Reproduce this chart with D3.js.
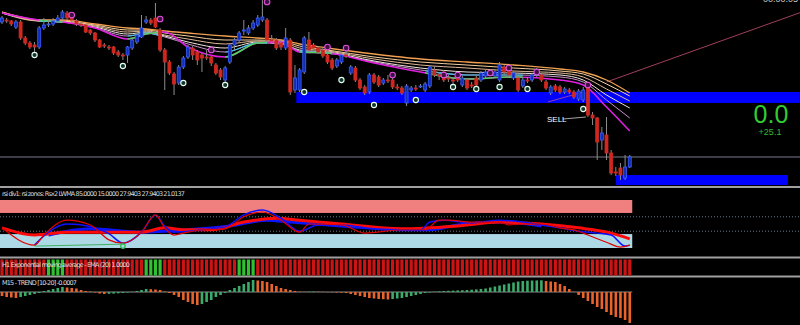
<!DOCTYPE html>
<html><head><meta charset="utf-8">
<script src="https://cdn.jsdelivr.net/npm/d3@7"></script>
<style>body{margin:0;background:#000}svg{display:block}</style>
</head><body>
<script>
// price data, one entry per bar (bars 0..135), price in points
var opens = [178,180,179,173,178,162,157,155,153,172, 175,176,179,182,187,182,179,176,175,170,
  167,160,155,153,153,148,145,145,152,158, 163,178,180,182,170,150,138,126,117,133,
  143,152,148,145,143,143,135,130,120,138, 155,160,169,167,172,175,180,180,160,160,
  157,152,160,110,110,128,160,155,152,150, 145,140,134,138,145,127,132,120,113,108,
  125,123,117,120,120,113,112,97,110,112, 113,110,114,130,125,128,122,120,123,115,
  120,115,122,120,124,127,124,120,133,130, 122,122,114,120,120,125,125,118,107,114,
  113,108,110,108,101,100,113,85,82,60, 65,47,28,32,22,33];
var highs = [184,182,180,180,180,164,159,158,174,182, 180,182,185,190,189,186,181,178,176,171,
  168,161,157,155,154,150,147,154,161,167, 185,184,182,197,172,152,140,128,135,144,
  155,154,150,147,150,144,137,132,134,157, 162,169,180,175,180,185,200,182,165,162,
  160,172,162,135,132,164,168,157,154,152, 147,142,142,147,152,135,134,122,115,127,
  127,125,122,125,122,116,114,116,114,115, 116,118,135,134,128,130,125,123,126,124,
  122,118,124,129,130,130,130,138,135,132, 129,124,122,123,127,132,127,120,115,116,
  115,113,112,110,111,113,115,88,83,73, 83,50,33,37,45,45];
var lows = [176,177,174,171,160,155,151,148,151,170, 173,174,177,180,180,178,174,173,167,165,
  158,152,152,150,145,143,140,137,150,156, 162,176,175,172,148,110,125,105,115,131,
  141,140,135,128,140,134,125,120,116,136, 150,158,165,165,170,173,178,158,156,150,
  150,150,105,107,108,126,148,150,146,142, 136,130,132,136,142,125,118,110,105,106,
  116,113,115,117,111,110,105,94,108,109, 112,108,112,123,120,118,118,115,118,113,
  110,112,113,118,122,124,122,118,126,123, 120,108,112,117,118,123,118,110,105,108,
  106,106,106,101,99,98,83,75,40,50, 40,25,24,20,20,32];
var closes = [182,179,176,178,162,157,153,153,172,175, 176,179,182,188,182,180,176,175,168,167,
  160,153,154,152,147,145,144,153,160,165, 172,180,177,173,150,138,127,116,133,142,
  153,145,140,142,142,137,127,123,132,155, 160,167,170,172,177,182,183,160,159,152,
  153,162,108,122,130,162,150,152,148,144, 138,132,140,145,144,133,120,112,107,125,
  118,115,120,119,113,112.5,107,114,112,111.5, 114,116,133,125,124,120,121,119.5,120,122,
  112,114,115,127,128,126.5,128,135,128,125, 127,110,120,119,125,130,120,112,113,110,
  108,111,108,103,109,110,85,82,58,67, 47,27,27,25,33,43];

// moving average ribbon, read at these bars
var ribbonBars = [0,8,13,20,27,31,35,40,48,55,60,64,70,80,90,100,110,120,125,130,135];
var maTop = [188,180,180,176,172,171,169,167,164,162,160,156,152,146,141,138,135,131,128,120,107];
var ma2 = [188,180,179,175,170,170,167,164,160,160,159,154,150,143,138,135,132,129,126,116,104];
var ma3 = [187,179,179,174,168,169,165,161,156,159,158,152,149,141,135,132,129,127,123,111,99];
var ma4 = [187,179,178,173,166,168,164,158,152,158,157,150,148,139,132,128,127,125,120,105,92];
var ma5 = [187,179,178,172,164,167,163,156,148,157,156,149,147,138,130,125,125,123,118,100,82];
var maBottom = [187,180,178,172,161,166,168,153,143,157,158,148,147,137,128,121,123,120,115,93,69];
var maRising = [[8,13],[27,34],[48,57],[64,71],[91,112]];

// arrow markers
var lowMarkBars = [7,26,39,48,65,73,80,89,97,102,107,113,125];
var lowMarkPrices = [145,134,117,115,108,120,95,100,113,111,113,111,91];
var highMarkBars = [15,34,45,57,70,74,84,95,98,105,109,115,126];
var highMarkPrices = [185,181,150,198,153,152,125,125,125,127,132,128,115];

// zones and levels
var zoneTop = {from: 63.3, to: 172, hi: 108, lo: 97};
var zoneLow = {from: 132, to: 169, hi: 25, lo: 15};
var priceLine = 43;
var trendLine = [[130,118],[172,188]];
var smallTrend = [[117.4,98],[125,108]];

// rsi panel
var rsiFastBars = [0,7,9,14,19,23,26,30,33,35,37,39,43,48,52,56,60,64,66,73,78,86,91,94,96,101,107,109,112,116,120,124,126,130,133,135];
var rsiFast = [42,6,27,58,48,17,10,33,69,42,27,31,38,40,65,75,58,33,50,48,31,38,38,58,58,54,54,48,50,50,42,35,27,12,2,6];
var rsiBlueBars = [7,10,14,19,23,26,30,33,35,37,43,48,52,56,60,64,68,73,80,86,90,92,95,101,107,112,116,120,124,128,131,134,135];
var rsiBlue = [6,33,50,45,30,10,33,69,45,33,38,44,69,79,62,35,48,48,40,38,38,54,58,52,58,54,48,42,35,31,27,4,6];
var rsiSlowBars = [0,7,14,23,30,35,39,45,52,59,64,73,86,98,107,116,124,131,135];
var rsiSlow = [42,27,33,33,33,42,38,38,54,62,58,50,40,46,54,50,42,31,19];
var rsiSlowBlueBars = [10,19,30,40,49,57,62,73,86,92,98,107,116];
var rsiSlowBlue = [27,40,33,38,46,58,54,46,38,38,48,54,46];
var rsiZones = {upper: [73,100], lower: [0,29], dots: [65,35]};
var divLine = [[7,4],[26,8]];

// H1 EMA trend: bars that are up
var h1UpBars = [10,11,12,13,31,32,33,34,51,52,53,54];

// M15 trend histogram
var m15 = [-4,-5,-5.5,-6,-5,-4,-3,-2,-1,1, 2,3,4,5,4.5,4,3.5,2,1,0.5,
  -0.5,-1.5,-2,-1.8,-1.6,-1.3,-1,-0.5,0.3,1, 2,3,2.8,2.5,2,0.5,-1,-3,-5,-8,
  -10,-12,-13,-12,-10,-8,-5,-3,-1,2, 4,6,8,10,12,11.5,11,10,8,6,
  4,3,2,1,0.3,0.2,0.4,0.5,0.3,0.2, -0.2,-0.3,-0.5,-0.6,-1,-2,-3,-4,-5,-6,
  -6.5,-7,-7.2,-7.5,-7,-6.5,-6,-5,-4,-3, -2,-1,-0.5,0.3,0.6,1,1.2,1.4,1.6,1.8,
  2,2.3,2.6,3,3.5,4.5,5.5,6.5,7.5,8.5, 9.5,10.5,11,11.3,11.5,11.6,11.7,11,10.5,10,
  8,6,3,0.2,-3,-6,-9,-12,-15,-17, -20,-23,-25,-26,-28,-31];

var W = 800, H = 325, N = opens.length;
var svg = d3.select("body").append("svg").attr("width", W).attr("height", H).style("background", "#000");
var defs = svg.append("defs");

var x = d3.scaleLinear().domain([0, N - 1]).range([2, 629.75]);
var y = d3.scaleLinear().domain([200, 14]).range([0, 186]);
var yr = d3.scaleLinear().domain([0, 100]).range([248, 200]);
var ym = d3.scaleLinear().domain([15, -32]).range([277, 324]);

defs.append("clipPath").attr("id", "mainclip").append("rect").attr("x", 0).attr("y", 0).attr("width", W).attr("height", 186);
var up = defs.append("clipPath").attr("id", "riseclip");
maRising.forEach(function(s){
  up.append("rect").attr("x", x(s[0])).attr("y", 0).attr("width", x(s[1]) - x(s[0])).attr("height", 186);
});

var main = svg.append("g").attr("clip-path", "url(#mainclip)");

// zones
[zoneTop, zoneLow].forEach(function(z){
  main.append("rect").attr("x", x(z.from)).attr("y", y(z.hi))
    .attr("width", x(z.to) - x(z.from)).attr("height", y(z.lo) - y(z.hi)).attr("fill", "#0000ff");
});
main.append("line").attr("x1", 0).attr("x2", W).attr("y1", y(priceLine)).attr("y2", y(priceLine))
  .attr("stroke", "#7a7a8a").attr("stroke-width", 1);
main.append("line").attr("x1", x(trendLine[0][0])).attr("y1", y(trendLine[0][1]))
  .attr("x2", x(trendLine[1][0])).attr("y2", y(trendLine[1][1])).attr("stroke", "#a0405a").attr("stroke-width", 1);
main.append("line").attr("x1", x(smallTrend[0][0])).attr("y1", y(smallTrend[0][1]))
  .attr("x2", x(smallTrend[1][0])).attr("y2", y(smallTrend[1][1])).attr("stroke", "#9040b0").attr("stroke-width", 1);

// ribbon
var ribLine = d3.line().x(function(d, i){ return x(ribbonBars[i]); }).y(function(d){ return y(d); }).curve(d3.curveMonotoneX);
var ribbon = [[ma5, "#c890c8", 1], [ma4, "#f0e4dc", 1], [ma3, "#e0b898", 1], [ma2, "#f4d0a0", 1], [maTop, "#f0a050", 1.3], [maBottom, "#e020e0", 1.6]];
ribbon.forEach(function(r){
  main.append("path").attr("d", ribLine(r[0])).attr("fill", "none").attr("stroke", r[1]).attr("stroke-width", r[2]);
});
main.append("path").attr("d", ribLine(ma5)).attr("fill", "none").attr("stroke", "#40c8e8").attr("stroke-width", 1.2).attr("clip-path", "url(#riseclip)");
main.append("path").attr("d", ribLine(maBottom)).attr("fill", "none").attr("stroke", "#50d060").attr("stroke-width", 1.6).attr("clip-path", "url(#riseclip)");

// candles
var bars = d3.range(N);
main.selectAll(".wick").data(bars).enter().append("line")
  .attr("x1", function(i){ return x(i); }).attr("x2", function(i){ return x(i); })
  .attr("y1", function(i){ return y(highs[i]); }).attr("y2", function(i){ return y(lows[i]); })
  .attr("stroke", "#8c8c8c").attr("stroke-width", 1);
main.selectAll(".body").data(bars).enter().append("rect")
  .attr("x", function(i){ return x(i) - 1.5; }).attr("width", 3)
  .attr("y", function(i){ return y(Math.max(opens[i], closes[i])); })
  .attr("height", function(i){ return Math.max(1, Math.abs(y(opens[i]) - y(closes[i]))); })
  .attr("fill", function(i){ return closes[i] >= opens[i] ? "#1430b0" : "#d02820"; })
  .attr("stroke", function(i){ return closes[i] >= opens[i] ? "#3a5cff" : "#d02820"; })
  .attr("stroke-width", 0.8);

// markers
main.selectAll(".lm").data(lowMarkBars).enter().append("circle")
  .attr("cx", function(d){ return x(d); }).attr("cy", function(d, i){ return y(lowMarkPrices[i]); })
  .attr("r", 2.6).attr("fill", "#103828").attr("stroke", "#e8fff4").attr("stroke-width", 1.1);
main.selectAll(".hm").data(highMarkBars).enter().append("circle")
  .attr("cx", function(d){ return x(d); }).attr("cy", function(d, i){ return y(highMarkPrices[i]); })
  .attr("r", 2.8).attr("fill", "#401040").attr("stroke", "#e050e0").attr("stroke-width", 1.1);

// SELL label
main.append("line").attr("x1", 563).attr("y1", 119).attr("x2", x(126) - 2).attr("y2", 117).attr("stroke", "#d0d0d0").attr("stroke-width", 0.8);
main.append("text").attr("x", 547).attr("y", 122).text("SELL").attr("fill", "#fff")
  .style("font", "8px 'Liberation Sans', Arial, sans-serif");

main.append("text").attr("x", 771).attr("y", 123).attr("text-anchor", "middle").text("0.0")
  .attr("fill", "#33cc33").style("font", "25px 'Liberation Sans', Arial, sans-serif");
main.append("text").attr("x", 770).attr("y", 135).attr("text-anchor", "middle").text("+25.1")
  .attr("fill", "#33bb33").style("font", "9px 'Liberation Sans', Arial, sans-serif");
main.append("text").attr("x", 798).attr("y", 2).attr("text-anchor", "end").text("00:00:05")
  .attr("fill", "#cccccc").style("font", "9px 'Liberation Sans', Arial, sans-serif");

// separators
[187, 257.5, 276.5].forEach(function(v){
  svg.append("line").attr("x1", 0).attr("x2", W).attr("y1", v).attr("y2", v).attr("stroke", "#a0a0a0").attr("stroke-width", 2);
});

// rsi panel
var xEnd = x(N - 1) + 2.5;
svg.append("rect").attr("x", 0).attr("width", xEnd).attr("y", yr(rsiZones.upper[1])).attr("height", yr(rsiZones.upper[0]) - yr(rsiZones.upper[1])).attr("fill", "#f08080");
svg.append("rect").attr("x", 0).attr("width", xEnd).attr("y", yr(rsiZones.lower[1])).attr("height", yr(rsiZones.lower[0]) - yr(rsiZones.lower[1])).attr("fill", "#add8e6");
rsiZones.dots.forEach(function(v){
  svg.append("line").attr("x1", 0).attr("x2", W).attr("y1", yr(v)).attr("y2", yr(v))
    .attr("stroke", "#6a7a88").attr("stroke-width", 1).attr("stroke-dasharray", "1,2");
});
function rsiPath(bs, vs){
  return d3.line().x(function(d, i){ return x(bs[i]); }).y(function(d){ return yr(d); }).curve(d3.curveMonotoneX)(vs);
}
svg.append("path").attr("d", rsiPath(rsiSlowBlueBars, rsiSlowBlue)).attr("fill", "none").attr("stroke", "#0a14ff").attr("stroke-width", 3);
svg.append("path").attr("d", rsiPath(rsiSlowBars, rsiSlow)).attr("fill", "none").attr("stroke", "#ff0a0a").attr("stroke-width", 3);
svg.append("path").attr("d", rsiPath(rsiBlueBars, rsiBlue)).attr("fill", "none").attr("stroke", "#1010ff").attr("stroke-width", 1.5);
svg.append("path").attr("d", rsiPath(rsiFastBars, rsiFast)).attr("fill", "none").attr("stroke", "#e00000").attr("stroke-width", 1.2);
svg.append("line").attr("x1", x(divLine[0][0])).attr("y1", yr(divLine[0][1])).attr("x2", x(divLine[1][0])).attr("y2", yr(divLine[1][1]))
  .attr("stroke", "#40b060").attr("stroke-width", 1);
svg.append("circle").attr("cx", x(divLine[1][0])).attr("cy", yr(4)).attr("r", 2.2).attr("fill", "none").attr("stroke", "#30c050").attr("stroke-width", 1.3);
svg.append("text").attr("x", 2).attr("y", 195.5).text("rsi div1: rsi zones: Rsx2 LWMA 85.0000 15.0000 27.9403 27.9403 21.0137")
  .attr("textLength", 183).attr("fill", "#d8d8d8").style("font", "6.5px 'DejaVu Sans', sans-serif");

// H1 EMA bars
svg.selectAll(".h1").data(bars).enter().append("rect")
  .attr("x", function(i){ return x(i) - 1.6; }).attr("width", 3.2).attr("y", 259.5).attr("height", 16)
  .attr("fill", function(i){ return h1UpBars.indexOf(i) >= 0 ? "#30c030" : "#cc1414"; });
svg.append("text").attr("x", 2).attr("y", 267).text("H1 Exponential moving average - EMA (20) 1.0000")
  .attr("textLength", 128).attr("fill", "#dddddd").style("font", "6.5px 'DejaVu Sans', sans-serif");

// M15 trend histogram
svg.append("line").attr("x1", 0).attr("x2", xEnd).attr("y1", ym(0)).attr("y2", ym(0)).attr("stroke", "#8a8a8a").attr("stroke-width", 1);
svg.selectAll(".m15").data(bars).enter().append("rect")
  .attr("x", function(i){ return x(i) - 1.3; }).attr("width", 2.6)
  .attr("y", function(i){ return Math.min(ym(0), ym(m15[i])); })
  .attr("height", function(i){ return Math.abs(ym(m15[i]) - ym(0)); })
  .attr("fill", function(i){ return i > 0 && m15[i] >= m15[i - 1] ? "#3caa6a" : "#e8642c"; });
svg.append("text").attr("x", 2).attr("y", 284.5).text("M15 - TREND [10-20] -0.0007")
  .attr("textLength", 75).attr("fill", "#dddddd").style("font", "6.5px 'DejaVu Sans', sans-serif");
</script>
</body></html>
